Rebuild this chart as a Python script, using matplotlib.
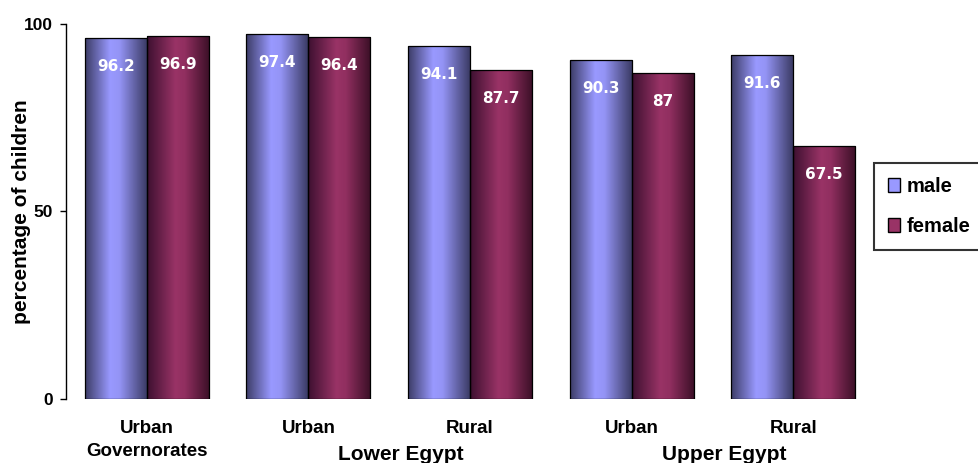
import matplotlib.pyplot as plt
import numpy as np
from matplotlib.colors import LinearSegmentedColormap
from matplotlib.patches import Patch
from matplotlib.transforms import blended_transform_factory

plt.rcParams["font.family"] = ["Liberation Sans", "DejaVu Sans"]
plt.rcParams["font.weight"] = "bold"

# percentage of children by region and sex
regions = ["Urban\nGovernorates", "Urban", "Rural", "Urban", "Rural"]
male = [96.2, 97.4, 94.1, 90.3, 91.6]
female = [96.9, 96.4, 87.7, 87, 67.5]
group_names = ["Lower Egypt", "Upper Egypt"]
group_members = [(1, 2), (3, 4)]

male_cmap = LinearSegmentedColormap.from_list(
    "male", [(0, "#3c3c66"), (0.4, "#9999ff"), (0.55, "#9494f5"), (1, "#383860")])
female_cmap = LinearSegmentedColormap.from_list(
    "female", [(0, "#3d1030"), (0.45, "#993366"), (0.6, "#912f60"), (1, "#3a0f26")])

fig = plt.figure(figsize=(9.79, 4.63), dpi=100)
ax = fig.add_axes([0.0674, 0.1382, 0.8254, 0.81])

x = np.arange(len(regions))
w = 0.384
grad = np.linspace(0, 1, 256).reshape(1, -1)


def shade(bars, cmap):
    # fill each bar with a horizontal gradient clipped to its rectangle
    for b in bars:
        im = ax.imshow(grad, cmap=cmap, aspect="auto", interpolation="bilinear",
                       extent=[b.get_x(), b.get_x() + b.get_width(), 0, b.get_height()],
                       zorder=1)
        im.set_clip_path(b)


mbars = ax.bar(x - w / 2, male, w, facecolor="none", edgecolor="black", linewidth=0.9, zorder=2)
fbars = ax.bar(x + w / 2, female, w, facecolor="none", edgecolor="black", linewidth=0.9, zorder=2)
shade(mbars, male_cmap)
shade(fbars, female_cmap)

for bars, vals in [(mbars, male), (fbars, female)]:
    for b, v in zip(bars, vals):
        ax.annotate(f"{v:g}", (b.get_x() + b.get_width() / 2, v), xytext=(0, -20.5),
                    textcoords="offset points", ha="center", va="center",
                    color="white", fontweight="bold", fontsize=11,
                    family="DejaVu Sans", zorder=3)

ax.set_xlim(-0.5, len(regions) - 0.5)
ax.set_ylim(0, 100)
ax.set_yticks([0, 50, 100])
ax.tick_params(axis="y", direction="out", length=4.5, width=1, labelsize=12.5, pad=5)

ax.set_xticks(x)
ax.set_xticklabels(regions, fontweight="bold", fontsize=13.5, linespacing=1.45)
ax.tick_params(axis="x", length=0, pad=15)

trans = blended_transform_factory(ax.transData, ax.transAxes)
for name, (a, b) in zip(group_names, group_members):
    ax.text((a + b) / 2 + 0.07, -0.148, name, transform=trans, ha="center", va="center",
            fontweight="bold", fontsize=15)

ax.set_ylabel("percentage of children", fontweight="bold", fontsize=15)
ax.yaxis.set_label_coords(-0.043, 0.5)

for s in ["top", "right", "bottom"]:
    ax.spines[s].set_visible(False)
ax.spines["left"].set_linewidth(1)

handles = [Patch(facecolor="#9999ff", edgecolor="black"),
           Patch(facecolor="#993366", edgecolor="black")]
leg = fig.legend(handles, ["male", "female"], loc="upper left",
                 bbox_to_anchor=(0.893, 0.648), frameon=True, fancybox=False,
                 edgecolor="black", borderaxespad=0, handlelength=0.6,
                 handleheight=0.7, handletextpad=0.3, labelspacing=1.05,
                 borderpad=0.7, prop={"weight": "bold", "size": 14.5})
leg.get_frame().set_linewidth(1.5)

fig.savefig("out.png", dpi=100)
